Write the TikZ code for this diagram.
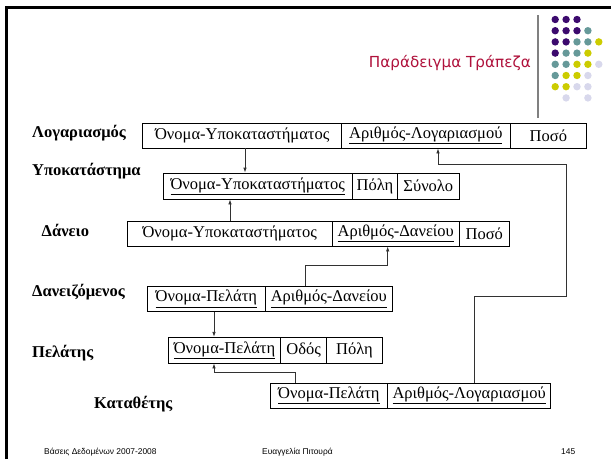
\documentclass[tikz,border=0pt]{standalone}
\usepackage{fontspec}
\setmainfont{Liberation Serif}
\newfontfamily\titlefont{DejaVu Sans}
\newfontfamily\footfont{Liberation Sans}
\usetikzlibrary{arrows.meta}
\definecolor{dpurple}{RGB}{60,10,110}
\definecolor{dteal}{RGB}{102,153,153}
\definecolor{dyellow}{RGB}{204,204,0}
\definecolor{dlav}{RGB}{216,216,236}
\definecolor{titlered}{RGB}{176,18,60}
\definecolor{conn}{RGB}{50,50,50}
\tikzset{
  cell/.style={draw=black, line width=0.8pt, inner sep=0pt, font=\fontsize{16.5}{16.5}\selectfont, text=black},
  lbl/.style={anchor=west, inner sep=0pt, font=\fontsize{16.5}{16.5}\selectfont\bfseries},
  arr/.style={draw=conn, line width=0.8pt, -{Latex[length=5pt,width=3.5pt]}},
  foot/.style={anchor=west, inner sep=0pt, font=\footfont\fontsize{8.4}{9}\selectfont},
  dot/.style={circle, inner sep=0pt, minimum size=7.4pt}
}
\newcommand{\mycell}[6]{% name, x1, x2, ytop, ybot, text
  \node[cell, minimum width={(#3-#2)*1pt}, minimum height={(#5-#4)*1pt}] (#1) at ({(#2+#3)/2},{(#4+#5)/2}) {#6};}
\begin{document}
\begin{tikzpicture}[x=1pt,y=-1pt]
\useasboundingbox[fill=white] (0,0) rectangle (611,459);
% border
\draw[line width=3pt] (6.5,459) -- (6.5,7.5) -- (611,7.5);
% title
\node[anchor=east, inner sep=0pt, text=titlered, font=\titlefont\fontsize{15.2}{15.2}\selectfont] (title) at (531,63) {Παράδειγμα Τράπεζα};
\draw[line width=2pt, color=gray] (538,15) -- (538,118);
% dots
\foreach \c/\r/\col in {1/1/dpurple,2/1/dpurple,3/1/dpurple,
  1/2/dpurple,2/2/dpurple,3/2/dpurple,4/2/dteal,
  1/3/dpurple,2/3/dpurple,3/3/dteal,4/3/dteal,5/3/dyellow,
  1/4/dpurple,2/4/dteal,3/4/dteal,4/4/dyellow,
  1/5/dteal,2/5/dteal,3/5/dyellow,4/5/dyellow,5/5/dlav,
  1/6/dteal,2/6/dyellow,3/6/dyellow,4/6/dlav,
  1/7/dyellow,2/7/dyellow,3/7/dlav,4/7/dlav,
  2/8/dlav,4/8/dlav}
  \node[dot, fill=\col] (d\c\r) at ({555.2+10.9*(\c-1)},{19.5+11.2*(\r-1)}) {};
% labels
\node[lbl] (lL) at (32,133) {Λογαριασμός};
\node[lbl] (lU) at (32,171) {Υποκατάστημα};
\node[lbl] (lD) at (41.5,230) {Δάνειο};
\node[lbl] (lN) at (32,292) {Δανειζόμενος};
\node[lbl] (lP) at (32,353) {Πελάτης};
\node[lbl] (lK) at (94,404) {Καταθέτης};
% tables
\mycell{L1}{142.7}{341.7}{123}{148}{Όνομα-Υποκαταστήματος}
\mycell{L2}{341.7}{510}{123}{148}{\underline{Αριθμός-Λογαριασμού}}
\mycell{L3}{510}{586.7}{123}{148}{Ποσό\hspace{16pt}}
\mycell{U1}{163}{352.3}{173}{199}{\underline{Όνομα-Υποκαταστήματος}}
\mycell{U2}{352.3}{397.7}{173}{199}{Πόλη}
\mycell{U3}{397.7}{459}{173}{199}{Σύνολο}
\mycell{D1}{127}{332.3}{221}{246}{Όνομα-Υποκαταστήματος}
\mycell{D2}{332.3}{459.3}{221}{246}{\underline{Αριθμός-Δανείου}}
\mycell{D3}{459.3}{509.3}{221}{246}{Ποσό}
\mycell{N1}{147.7}{265}{286}{311.7}{\underline{Όνομα-Πελάτη}}
\mycell{N2}{265}{392.7}{286}{311.7}{\underline{Αριθμός-Δανείου}}
\mycell{P1}{168.3}{280.7}{337.3}{363}{\underline{Όνομα-Πελάτη}}
\mycell{P2}{280.7}{326.7}{337.3}{363}{Οδός}
\mycell{P3}{326.7}{382.3}{337.3}{363}{Πόλη}
\mycell{K1}{270}{387.7}{383}{408}{\underline{Όνομα-Πελάτη}}
\mycell{K2}{387.7}{550.7}{383}{408}{\underline{Αριθμός-Λογαριασμού}}
% connector guide coordinates
\coordinate (a1) at (245,0);
\coordinate (a2) at (230,0);
\coordinate (a3s) at (305.7,0);
\coordinate (a3t) at (387.7,0);
\coordinate (a3y) at (0,265);
\coordinate (a4) at (214,0);
\coordinate (a5s) at (295.7,0);
\coordinate (a5y) at (0,372.7);
\coordinate (a6s) at (474,0);
\coordinate (a6y1) at (0,296);
\coordinate (a6x) at (566,0);
\coordinate (a6y2) at (0,164);
\coordinate (a6t) at (438,0);
% connectors
\draw[arr] (L1.south -| a1) -- (U1.north -| a1);
\draw[arr] (D1.north -| a2) -- (U1.south -| a2);
\draw[arr] (N2.north -| a3s) -- (a3s |- a3y) -- (a3t |- a3y) -- (D2.south -| a3t);
\draw[arr] (N1.south -| a4) -- (P1.north -| a4);
\draw[arr] (K1.north -| a5s) -- (a5s |- a5y) -- (a4 |- a5y) -- (P1.south -| a4);
\draw[arr] (K2.north -| a6s) -- (a6s |- a6y1) -- (a6x |- a6y1) -- (a6x |- a6y2) -- (a6t |- a6y2) -- (L2.south -| a6t);
% footer
\node[foot] (f1) at (44,452) {Βάσεις Δεδομένων 2007-2008};
\node[foot] (f2) at (262,452) {Ευαγγελία Πιτουρά};
\node[foot] (f3) at (561,452) {145};
\end{tikzpicture}
\end{document}
